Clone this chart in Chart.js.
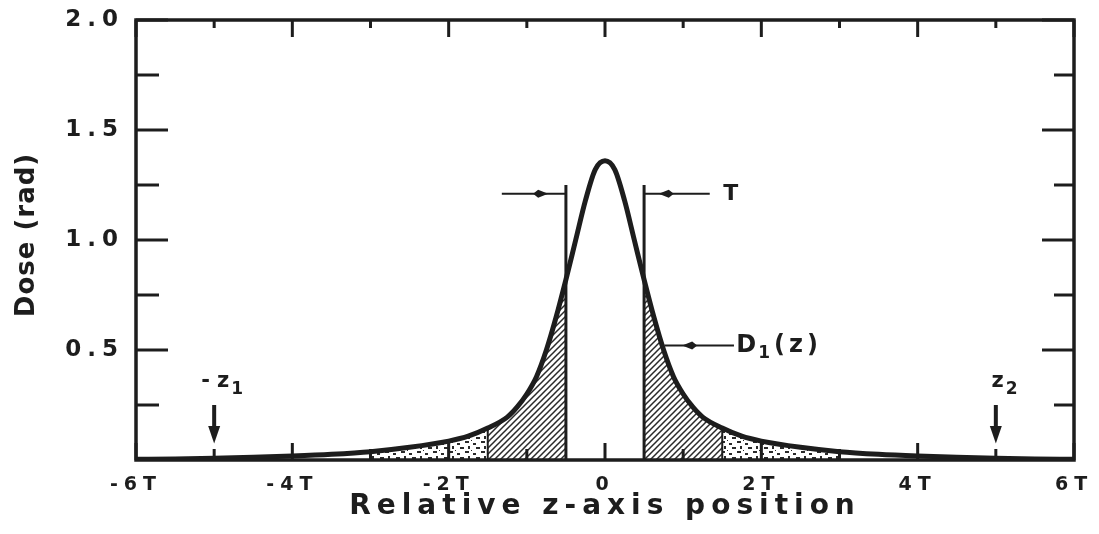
<!DOCTYPE html>
<html>
<head>
<meta charset="utf-8">
<script src="https://cdn.jsdelivr.net/npm/chart.js@4/dist/chart.umd.min.js"></script>
<style>
html, body { margin: 0; padding: 0; background: #fff; }
</style>
</head>
<body>
<canvas id="doseChart" width="1099" height="534"></canvas>
<script>
// dose profile D1(z), z in units of slice thickness T
const zPositions = [-6, -5.5, -5, -4.5, -4, -3.5, -3, -2.5, -2, -1.75, -1.5, -1.25, -1.125, -1, -0.875, -0.75, -0.625, -0.5, -0.375, -0.25, -0.125,
  0, 0.125, 0.25, 0.375, 0.5, 0.625, 0.75, 0.875, 1, 1.125, 1.25, 1.5, 1.75, 2, 2.5, 3, 3.5, 4, 4.5, 5, 5.5, 6];
const doseValues = [0.003, 0.005, 0.008, 0.012, 0.018, 0.026, 0.038, 0.058, 0.086, 0.108, 0.145, 0.195, 0.24, 0.30, 0.38, 0.50, 0.65, 0.82, 1.00, 1.18, 1.32,
  1.36, 1.32, 1.18, 1.00, 0.82, 0.65, 0.50, 0.38, 0.30, 0.24, 0.195, 0.145, 0.108, 0.086, 0.058, 0.038, 0.026, 0.018, 0.012, 0.008, 0.005, 0.003];

const xTickValues = [-6, -4, -2, 0, 2, 4, 6];
const xTickLabels = ['-6T', '-4T', '-2T', '0', '2T', '4T', '6T'];
const xMinorTicks = [-5, -3, -1, 1, 3, 5];
const yTickValues = [0.5, 1.0, 1.5, 2.0];
const yTickLabels = ['0.5', '1.0', '1.5', '2.0'];
const yMinorTicks = [0.25, 0.75, 1.25, 1.75];

const hatchedRanges = [[-1.5, -0.5], [0.5, 1.5]];
const stippledRanges = [[-3, -1.5], [1.5, 3]];
const separatorZ = [-3, -2, -1.5, 1.5, 2, 3];
const slitEdges = [-0.5, 0.5];
const slitTop = 1.25;

const markerZ = [-5, 5];
const markerNames = ['-z', 'z'];
const markerSubs = ['1', '2'];

const ink = '#1d1d1d';

function profileBetween(lo, hi) {
  const pts = [];
  zPositions.forEach((z, i) => {
    if (z >= lo && z <= hi) pts.push({ x: z, y: doseValues[i] });
  });
  return pts;
}

function makeHatch() {
  const c = document.createElement('canvas');
  c.width = 6; c.height = 6;
  const g = c.getContext('2d');
  g.strokeStyle = '#2a2a2a';
  g.lineWidth = 1.5;
  g.beginPath();
  g.moveTo(-1, 7); g.lineTo(7, -1);
  g.moveTo(-4, 4); g.lineTo(4, -4);
  g.moveTo(2, 10); g.lineTo(10, 2);
  g.stroke();
  return g.createPattern(c, 'repeat');
}

function makeStipple() {
  const c = document.createElement('canvas');
  c.width = 16; c.height = 10;
  const g = c.getContext('2d');
  g.fillStyle = '#2a2a2a';
  g.fillRect(1, 1, 4, 2);
  g.fillRect(9, 3, 3, 2);
  g.fillRect(4, 6, 2, 3);
  g.fillRect(12, 7, 4, 2);
  g.fillRect(7, 0, 1, 1);
  return g.createPattern(c, 'repeat');
}

const hatch = makeHatch();
const stipple = makeStipple();

const datasets = [];
datasets.push({
  label: 'D1(z)',
  data: zPositions.map((z, i) => ({ x: z, y: doseValues[i] })),
  borderColor: ink,
  borderWidth: 5,
  pointRadius: 0,
  cubicInterpolationMode: 'monotone',
  fill: false,
  order: 0
});
hatchedRanges.forEach(r => datasets.push({
  data: profileBetween(r[0], r[1]),
  borderWidth: 0,
  pointRadius: 0,
  cubicInterpolationMode: 'monotone',
  backgroundColor: hatch,
  fill: 'origin',
  order: 5
}));
stippledRanges.forEach(r => datasets.push({
  data: profileBetween(r[0], r[1]),
  borderWidth: 0,
  pointRadius: 0,
  cubicInterpolationMode: 'monotone',
  backgroundColor: stipple,
  fill: 'origin',
  order: 5
}));
slitEdges.forEach(z => datasets.push({
  data: [{ x: z, y: 0 }, { x: z, y: slitTop }],
  borderColor: ink,
  borderWidth: 3,
  pointRadius: 0,
  fill: false,
  order: 1
}));
separatorZ.forEach(z => datasets.push({
  data: [{ x: z, y: 0 }, { x: z, y: doseValues[zPositions.indexOf(z)] }],
  borderColor: ink,
  borderWidth: 2,
  pointRadius: 0,
  fill: false,
  order: 2
}));

function head(ctx, x, y, dir) {
  ctx.beginPath();
  ctx.moveTo(x + dir * 8, y);
  ctx.lineTo(x - dir * 2, y - 4);
  ctx.lineTo(x - dir * 7, y);
  ctx.lineTo(x - dir * 2, y + 4);
  ctx.closePath();
  ctx.fill();
}

function line(ctx, x1, y1, x2, y2) {
  ctx.beginPath();
  ctx.moveTo(x1, y1);
  ctx.lineTo(x2, y2);
  ctx.stroke();
}

const framePlugin = {
  id: 'frame',
  beforeLayout(chart) { chart.ctx.letterSpacing = '6px'; },
  beforeDraw(chart) { chart.ctx.letterSpacing = '6px'; },
  afterDatasetsDraw(chart) {
    const { ctx, chartArea: a, scales: { x, y } } = chart;
    ctx.save();
    ctx.strokeStyle = ink;
    ctx.fillStyle = ink;
    ctx.lineWidth = 3.5;
    ctx.strokeRect(a.left, a.top, a.right - a.left, a.bottom - a.top);

    // inward ticks on all four sides
    ctx.lineWidth = 3;
    xTickValues.forEach(v => {
      const px = x.getPixelForValue(v);
      line(ctx, px, a.bottom, px, a.bottom - 17);
      line(ctx, px, a.top, px, a.top + 17);
    });
    xMinorTicks.forEach(v => {
      const px = x.getPixelForValue(v);
      line(ctx, px, a.bottom, px, a.bottom - 11);
      line(ctx, px, a.top, px, a.top + 8);
    });
    yTickValues.forEach(v => {
      const py = y.getPixelForValue(v);
      line(ctx, a.left, py, a.left + 32, py);
      line(ctx, a.right, py, a.right - 32, py);
    });
    yMinorTicks.forEach(v => {
      const py = y.getPixelForValue(v);
      line(ctx, a.left, py, a.left + 23, py);
      line(ctx, a.right, py, a.right - 20, py);
    });

    // T arrows
    ctx.lineWidth = 2;
    const ty = y.getPixelForValue(1.21);
    line(ctx, x.getPixelForValue(-1.32), ty, x.getPixelForValue(-0.5), ty);
    head(ctx, x.getPixelForValue(-0.83), ty, 1);
    line(ctx, x.getPixelForValue(0.5), ty, x.getPixelForValue(1.34), ty);
    head(ctx, x.getPixelForValue(0.79), ty, -1);

    // D1(z) arrow
    const dy = y.getPixelForValue(0.52);
    line(ctx, x.getPixelForValue(0.76), dy, x.getPixelForValue(1.65), dy);
    head(ctx, x.getPixelForValue(1.09), dy, -1);

    ctx.letterSpacing = '2px';
    ctx.textBaseline = 'middle';
    ctx.textAlign = 'center';
    ctx.font = 'bold 22px "DejaVu Sans"';
    ctx.fillText('T', x.getPixelForValue(1.61) + 1, ty);

    ctx.textAlign = 'left';
    let lx = x.getPixelForValue(1.68);
    ctx.font = 'bold 24px "DejaVu Sans"';
    ctx.fillText('D', lx, dy);
    lx += ctx.measureText('D').width;
    ctx.font = 'bold 17px "DejaVu Sans"';
    ctx.fillText('1', lx, dy + 8);
    lx += ctx.measureText('1').width + 2;
    ctx.font = 'bold 24px "DejaVu Sans"';
    ctx.letterSpacing = '4px';
    ctx.fillText('(z)', lx, dy);

    // -z1 and z2 markers
    markerZ.forEach((z, i) => {
      const px = x.getPixelForValue(z);
      ctx.lineWidth = 4;
      line(ctx, px, y.getPixelForValue(0.25), px, y.getPixelForValue(0.12));
      ctx.beginPath();
      ctx.moveTo(px - 6, y.getPixelForValue(0.155));
      ctx.lineTo(px + 6, y.getPixelForValue(0.155));
      ctx.lineTo(px, y.getPixelForValue(0.075));
      ctx.closePath();
      ctx.fill();
      const my = y.getPixelForValue(0.355);
      ctx.letterSpacing = '7px';
      ctx.font = 'bold 21px "DejaVu Sans"';
      ctx.textAlign = 'right';
      const nameEnd = i === 0 ? px + 22 : px + 15;
      ctx.fillText(markerNames[i], nameEnd, my);
      ctx.textAlign = 'left';
      ctx.font = 'bold 17px "DejaVu Sans"';
      ctx.fillText(markerSubs[i], nameEnd - 5, my + 8);
    });

    // y axis title
    ctx.letterSpacing = '1px';
    ctx.font = 'bold 26px "DejaVu Sans"';
    ctx.textAlign = 'center';
    ctx.translate(27, (a.top + a.bottom) / 2 - 5);
    ctx.rotate(-Math.PI / 2);
    ctx.fillText('Dose (rad)', 0, 0);
    ctx.restore();
    chart.ctx.letterSpacing = '6px';
  }
};

new Chart(document.getElementById('doseChart'), {
  type: 'line',
  data: { datasets },
  options: {
    responsive: false,
    animation: false,
    layout: { padding: { top: 20, right: 25, left: 0, bottom: 0 } },
    plugins: { legend: { display: false }, tooltip: { enabled: false } },
    scales: {
      x: {
        type: 'linear',
        min: -6,
        max: 6,
        afterBuildTicks(scale) { scale.ticks = xTickValues.map(v => ({ value: v })); },
        afterFit(scale) {
          scale.height = 74;
          scale.paddingLeft = 0;
          scale.paddingRight = 0;
        },
        grid: { display: false, drawTicks: false },
        border: { display: false },
        ticks: {
          autoSkip: false,
          maxRotation: 0,
          padding: 14,
          color: ink,
          font: { family: 'DejaVu Sans', size: 19, weight: 'bold' },
          callback: (v, i) => xTickLabels[i]
        },
        title: {
          display: true,
          text: 'Relative z-axis position',
          color: ink,
          font: { family: 'DejaVu Sans', size: 28, weight: 'bold' },
          padding: { top: 0, bottom: 10 }
        }
      },
      y: {
        min: 0,
        max: 2,
        afterBuildTicks(scale) { scale.ticks = yTickValues.map(v => ({ value: v })); },
        afterFit(scale) {
          scale.width = 136;
          scale.paddingTop = 0;
          scale.paddingBottom = 0;
        },
        grid: { display: false, drawTicks: false },
        border: { display: false },
        ticks: {
          padding: 12,
          color: ink,
          font: { family: 'DejaVu Sans', size: 23, weight: 'bold' },
          callback: (v, i) => yTickLabels[i]
        }
      }
    }
  },
  plugins: [framePlugin]
});
</script>
</body>
</html>
